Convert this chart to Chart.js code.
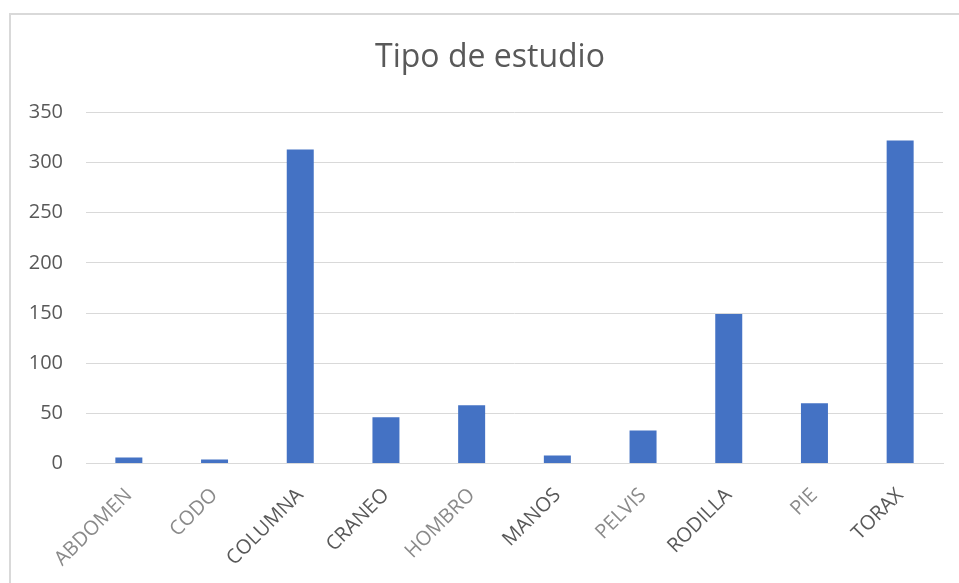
<!DOCTYPE html>
<html>
<head>
<meta charset="utf-8">
<script src="https://cdn.jsdelivr.net/npm/chart.js@4"></script>
<style>
  body { margin: 0; background: #fff; overflow: hidden; }
  #frame {
    position: absolute; left: 9px; top: 13px;
    width: 1000px; height: 600px;
    border-left: 2px solid #d9d9d9; border-top: 2px solid #d9d9d9;
  }
  #chart { position: absolute; left: 0; top: 0; }
</style>
</head>
<body>
<div id="frame"></div>
<canvas id="chart" width="959" height="583"></canvas>
<script>
// values
const categories = ['ABDOMEN', 'CODO', 'COLUMNA', 'CRANEO', 'HOMBRO', 'MANOS', 'PELVIS', 'RODILLA', 'PIE', 'TORAX'];
const counts = [6, 4, 313, 46, 58, 8, 33, 149, 60, 322];
const labelColors = ['#8a8a8a', '#8a8a8a', '#595959', '#595959', '#8a8a8a', '#595959', '#8a8a8a', '#595959', '#8a8a8a', '#595959'];
const yTicks = { min: 0, max: 350, step: 50 };

const fontFamily = '"Open Sans", "Liberation Sans", sans-serif';
const gridColor = '#d9d9d9';

const chart = new Chart(document.getElementById('chart'), {
  type: 'bar',
  data: {
    labels: categories,
    datasets: [{
      label: 'Tipo de estudio',
      data: counts,
      backgroundColor: '#4472C4',
      categoryPercentage: 1,
      barPercentage: 0.315,
    }],
  },
  options: {
    responsive: false,
    animation: false,
    layout: { padding: { left: 37, right: 16, top: 10, bottom: 0 } },
    plugins: {
      legend: { display: false },
      tooltip: { enabled: false },
      title: {
        display: true,
        text: 'Tipo de estudio',
        color: '#595959',
        font: { family: fontFamily, size: 32, weight: 'normal' },
        padding: { top: 29, bottom: 35 },
      },
    },
    scales: {
      x: {
        grid: { display: false, drawTicks: false },
        border: { display: true, color: gridColor, width: 1 },
        ticks: {
          color: labelColors,
          font: { family: fontFamily, size: 20 },
          minRotation: 45,
          maxRotation: 45,
          padding: 20,
        },
        afterFit: (scale) => { scale.height = 119.5; },
      },
      y: {
        min: yTicks.min,
        max: yTicks.max,
        grid: { color: gridColor, lineWidth: 1, drawTicks: false },
        border: { display: false },
        ticks: {
          stepSize: yTicks.step,
          color: '#595959',
          font: { family: fontFamily, size: 20 },
          padding: 23,
        },
        afterFit: (scale) => {
          scale.width = 49;
          // the tick labels sit left of the narrow axis box, so don't clip them to it
          scale._computeLabelArea = () => undefined;
        },
      },
    },
  },
});
</script>
</body>
</html>
